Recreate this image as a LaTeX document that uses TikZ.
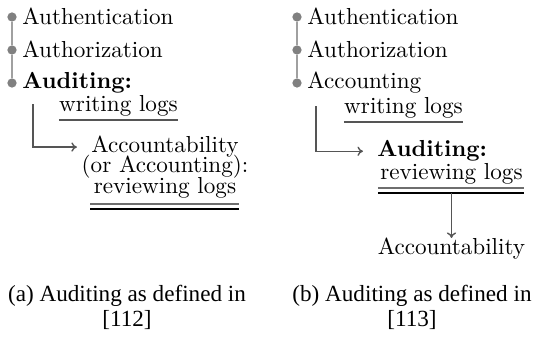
\documentclass[tikz,border=0pt]{standalone}
\usepackage{fontspec}
\newfontfamily\capfont{Liberation Serif}
\usetikzlibrary{arrows.meta,positioning}
\definecolor{dotgray}{RGB}{128,128,128}
\definecolor{stemgray}{RGB}{160,160,160}
\definecolor{linkgray}{RGB}{85,85,85}
\definecolor{ulgray}{RGB}{110,110,110}

\begin{document}
\begin{tikzpicture}[x=0.432pt,y=-0.432pt,
  item/.style={anchor=base west, inner sep=0pt},
  word/.style={anchor=base, inner sep=0pt},
  dot/.style={circle, fill=dotgray, inner sep=0pt, minimum size=4pt},
  stem/.style={stemgray, line width=0.8pt},
  link/.style={linkgray, line width=0.6pt, -{To[length=2.4pt,width=4pt]}},
  uline/.style={linkgray, line width=0.8pt},
  capline/.style={anchor=base, inner sep=0pt, font=\capfont}]
\useasboundingbox (0,0) rectangle (536,340);
% --- Left: Auditing as in [112] ---
\node[dot] (a1) at (12,17) {};
\node[dot] (a2) at (12,50) {};
\node[dot] (a3) at (12,83) {};
\draw[stem] (a1) -- (a2) -- (a3);
\node[item] (authA) at (22,25) {Authentication};
\node[item] (authzA) at (22,58) {Authorization};
\node[item] (audA) at (22,89) {\bfseries Auditing:};
% writing logs, underlined
\node[word] (wlogA) at (118.5,112) {writing logs};
\draw[uline] ([shift={(0,8)}]wlogA.base west) -- ([shift={(0,8)}]wlogA.base east);
% Accountability block
\node[word] (accA) at (165,153) {Accountability};
\node[word] (orA) at (165,173) {(or Accounting):};
\node[word] (revA) at (165,194) {reviewing logs};
\draw[ulgray, line width=0.9pt] ([shift={(-3,10)}]revA.base west) -- ([shift={(2,10)}]revA.base east);
\draw[black, line width=0.6pt] ([shift={(-3,15)}]revA.base west) -- ([shift={(2,15)}]revA.base east);
\draw[link] ([shift={(11,10)}]audA.south west) |- ([shift={(-14,0)}]accA.west);
% --- Right: Auditing as in [113] ---
\node[dot] (b1) at (297,17) {};
\node[dot] (b2) at (297,50) {};
\node[dot] (b3) at (297,83) {};
\draw[stem] (b1) -- (b2) -- (b3);
\node[item] (authB) at (307,25) {Authentication};
\node[item] (authzB) at (307,58) {Authorization};
\node[item] (accB) at (307,89) {Accounting};
% writing logs, underlined
\node[word] (wlogB) at (403.5,114) {writing logs};
\draw[uline] ([shift={(0,8)}]wlogB.base west) -- ([shift={(0,8)}]wlogB.base east);
% Auditing block
\node[item] (audB) at (377,157) {\bfseries Auditing:};
\node[word] (revB) at (451.5,180) {reviewing logs};
\draw[ulgray, line width=0.9pt] ([shift={(-2,8)}]revB.base west) -- ([shift={(1,8)}]revB.base east);
\draw[black, line width=0.6pt] ([shift={(-2,13)}]revB.base west) -- ([shift={(1,13)}]revB.base east);
\draw[link] ([shift={(9,12)}]accB.south west) |- ([shift={(-14,0)}]audB.west);
\node[word] (acctB) at (451.5,255) {Accountability};
\draw[link] ([shift={(0,13)}]revB.base) -- (acctB.north);
% --- Captions ---
\node[capline] (capA) at (127,302) {(a) Auditing as defined in};
\node[capline] (citeA) at (127,327) {[112]};
\node[capline] (capB) at (412,302) {(b) Auditing as defined in};
\node[capline] (citeB) at (412,327) {[113]};
\end{tikzpicture}
\end{document}
